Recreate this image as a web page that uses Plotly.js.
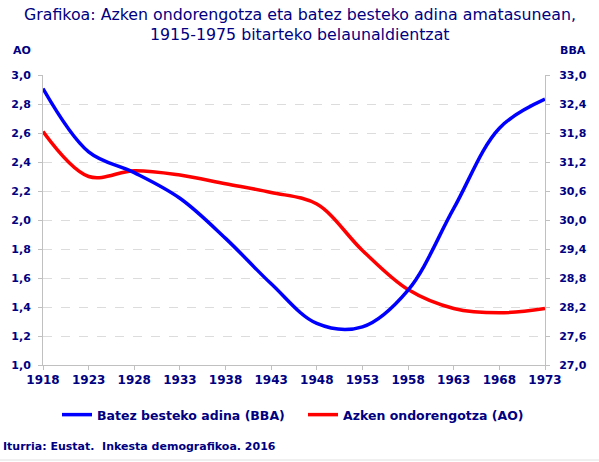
<!DOCTYPE html>
<html>
<head>
<meta charset="utf-8">
<script src="https://cdn.plot.ly/plotly-3.0.1.min.js"></script>
<style>
  html, body { margin: 0; padding: 0; background: #fff; }
  #chart { width: 599px; height: 462px; }
</style>
</head>
<body>
<div id="chart"></div>
<script>
// belaunaldiak (generations)
const years = [1918, 1923, 1928, 1933, 1938, 1943, 1948, 1953, 1958, 1963, 1968, 1973];
// Batez besteko adina amatasunean (BBA), right axis
const bba = [32.72, 31.41, 30.98, 30.45, 29.62, 28.68, 27.86, 27.79, 28.55, 30.24, 31.90, 32.50];
// Azken ondorengotza (AO), left axis
const ao = [2.61, 2.30, 2.34, 2.31, 2.25, 2.19, 2.11, 1.79, 1.52, 1.39, 1.36, 1.39];

const navy = '#000080';
const fontFam = 'DejaVu Sans, Verdana, sans-serif';
const tickFont = { family: fontFam, size: 11, color: navy, weight: 'bold' };

const traceBBA = {
    x: years,
    y: bba,
    name: 'Batez besteko adina (BBA)',
    yaxis: 'y2',
    type: 'scatter',
    mode: 'lines',
    line: { color: '#0000ff', width: 3.5, shape: 'spline' }
};

const traceAO = {
    x: years,
    y: ao,
    name: 'Azken ondorengotza (AO)',
    type: 'scatter',
    mode: 'lines',
    line: { color: '#ff0000', width: 3.5, shape: 'spline' }
};

// px -> paper helpers (plot area 43..545 x 75..365)
const px = v => (v - 43) / 502;
const py = v => (365 - v) / 290;

const titleFont = { family: 'DejaVu Sans, Tahoma, sans-serif', size: 15.8, color: navy };

const layout = {
    width: 599,
    height: 462,
    margin: { l: 43, r: 54, t: 75, b: 97 },
    paper_bgcolor: '#fff',
    plot_bgcolor: '#fff',
    separators: ',.',
    xaxis: {
        range: [1918, 1973],
        tickvals: years,
        ticktext: years.map(String),
        showgrid: false,
        zeroline: false,
        showline: true,
        linecolor: '#c0c0c0',
        linewidth: 1,
        ticks: 'outside',
        ticklen: 4,
        tickcolor: '#c0c0c0',
        tickfont: { family: fontFam, size: 12, color: navy, weight: 'bold' }
    },
    yaxis: {
        range: [1.0, 3.0],
        dtick: 0.2,
        tick0: 1.0,
        tickformat: '.1f',
        showgrid: true,
        gridcolor: '#dcdcdc',
        griddash: 'dash',
        zeroline: false,
        showline: true,
        linecolor: '#c0c0c0',
        ticks: 'outside',
        ticklen: 4,
        tickcolor: '#c0c0c0',
        ticklabelstandoff: 5,
        tickfont: tickFont
    },
    yaxis2: {
        range: [27.0, 33.0],
        dtick: 0.6,
        tick0: 27.0,
        tickformat: '.1f',
        overlaying: 'y',
        side: 'right',
        showgrid: false,
        zeroline: false,
        showline: true,
        linecolor: '#c0c0c0',
        ticks: 'outside',
        ticklen: 4,
        tickcolor: '#c0c0c0',
        ticklabelstandoff: 7,
        tickfont: tickFont
    },
    showlegend: true,
    legend: {
        orientation: 'h',
        xref: 'container',
        yref: 'container',
        x: 57 / 599,
        xanchor: 'left',
        y: 1 - 415 / 462,
        yanchor: 'middle',
        font: { family: fontFam, size: 12.5, color: navy, weight: 'bold' },
        entrywidth: 201,
        entrywidthmode: 'pixels',
        tracegroupgap: 0
    },
    annotations: [
        {
            text: 'Grafikoa: Azken ondorengotza eta batez besteko adina amatasunean,',
            xref: 'paper', yref: 'paper', x: px(300), y: py(14.5),
            xanchor: 'center', yanchor: 'middle', showarrow: false, borderpad: 0,
            font: titleFont
        },
        {
            text: '1915-1975 bitarteko belaunaldientzat',
            xref: 'paper', yref: 'paper', x: px(300), y: py(34.5),
            xanchor: 'center', yanchor: 'middle', showarrow: false, borderpad: 0,
            font: titleFont
        },
        {
            text: 'AO', xref: 'paper', yref: 'paper', x: px(21.5), y: py(50.5),
            xanchor: 'center', yanchor: 'middle', showarrow: false,
            font: { family: fontFam, size: 11, color: navy, weight: 'bold' }
        },
        {
            text: 'BBA', xref: 'paper', yref: 'paper', x: px(573), y: py(50.5),
            xanchor: 'center', yanchor: 'middle', showarrow: false,
            font: { family: fontFam, size: 11, color: navy, weight: 'bold' }
        },
        {
            text: 'Iturria: Eustat.  Inkesta demografikoa. 2016', xref: 'paper', yref: 'paper',
            x: px(1), y: py(447), xanchor: 'left', yanchor: 'middle', showarrow: false,
            font: { family: fontFam, size: 11, color: navy, weight: 'bold' }
        }
    ],
    shapes: [
        {
            type: 'line', xref: 'paper', yref: 'paper',
            x0: px(0), x1: px(599), y0: py(460), y1: py(460),
            line: { color: '#e0e0e0', width: 1 }
        }
    ]
};

Plotly.newPlot('chart', [traceBBA, traceAO], layout, { staticPlot: true, displayModeBar: false });
</script>
</body>
</html>
